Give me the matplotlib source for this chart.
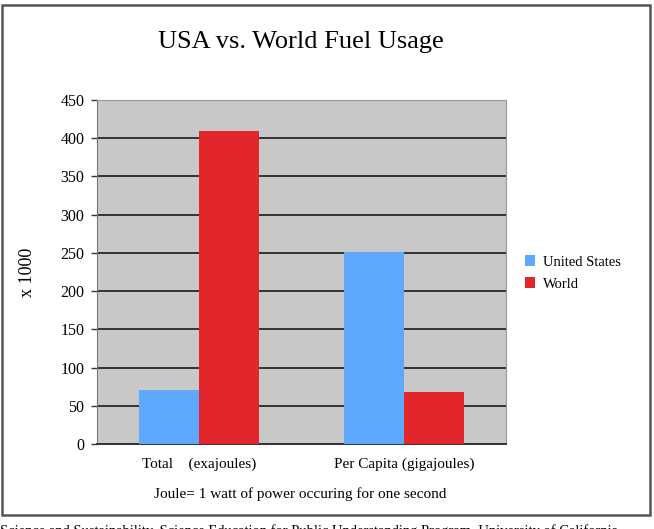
import matplotlib.pyplot as plt
from matplotlib.patches import Rectangle
import numpy as np

plt.rcParams.update({
    "font.family": "serif", "font.serif": ["Liberation Serif", "DejaVu Serif"],
    "font.size": 10,
})

categories = ["Total    (exajoules)", "Per Capita (gigajoules)"]
series = ["United States", "World"]
us_vals = [70, 251]
world_vals = [410, 68]
colors = {"United States": "#5fa8ff", "World": "#e1262c"}
yticks = [0, 50, 100, 150, 200, 250, 300, 350, 400, 450]

W, H = 654, 529
fig = plt.figure(figsize=(W / 100, H / 100), dpi=100)

# outer frame
fig.patches.append(Rectangle((2 / W, 1 - 515 / H), 648 / W, 510 / H, transform=fig.transFigure,
                             fill=False, edgecolor="#555555", linewidth=1.8))

ax = fig.add_axes([97 / W, 1 - 444 / H, 409 / W, 344 / H])
ax.set_facecolor("#c8c8c8")

x = np.arange(len(categories))
bw = 0.293
ax.bar(x - bw / 2, us_vals, bw, color=colors["United States"], label=series[0], zorder=3)
ax.bar(x + bw / 2, world_vals, bw, color=colors["World"], label=series[1], zorder=3)

ax.set_xlim(-0.5, 1.5)
ax.set_ylim(0, 450)
ax.set_yticks(yticks)
ax.yaxis.grid(True, color="#333333", linewidth=1.4, zorder=1)
ax.set_axisbelow(True)
ax.set_xticks(x)
ax.set_xticklabels(categories, fontsize=11)
ax.tick_params(axis="x", length=0, pad=10)
ax.tick_params(axis="y", length=4, width=1, color="#333333", labelsize=11.5, pad=5)
for s in ["top", "right"]:
    ax.spines[s].set_color("#999999")
ax.spines["left"].set_color("#777777")
ax.spines["bottom"].set_color("#333333")
ax.spines["bottom"].set_linewidth(1.4)

ax.set_ylabel("x 1000", fontsize=13)
ax.yaxis.set_label_coords((36 - 97) / 409, 0.5)

fig.text(301 / W, 1 - 42 / H, "USA vs. World Fuel Usage", ha="center", va="center", fontsize=19)
fig.text(300 / W, 1 - 494 / H, "Joule= 1 watt of power occuring for one second",
         ha="center", va="center", fontsize=11)
fig.text(0 / W, 1 - 531 / H,
         "Science and Sustainability, Science Education for Public Understanding Program, University of California",
         ha="left", va="center", fontsize=10.5)

ax.legend(loc="center left", bbox_to_anchor=(512 / W, 1 - 273 / H), bbox_transform=fig.transFigure,
          frameon=False, fontsize=10.5, handlelength=0.7, handleheight=0.7, handletextpad=0.5,
          labelspacing=0.6)

fig.savefig("out.png", dpi=100)
